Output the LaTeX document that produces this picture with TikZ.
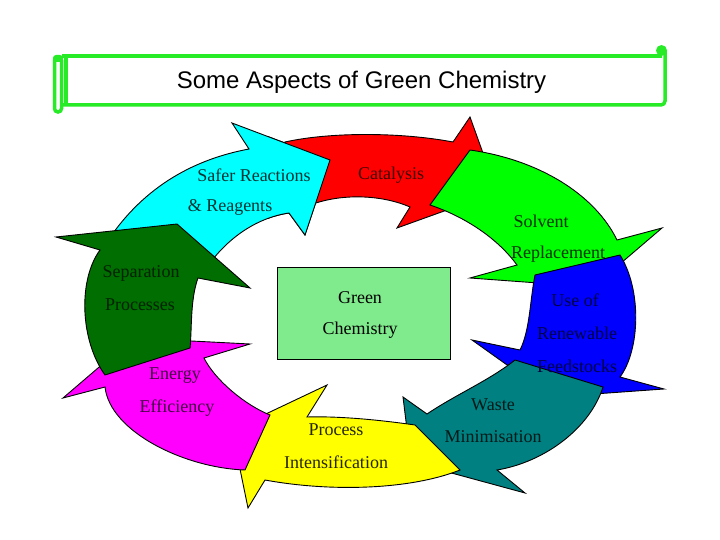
\documentclass[tikz,border=0pt]{standalone}
\usepackage{fontspec}
\setmainfont{Liberation Serif}
\newfontfamily\titlefont{Liberation Sans}
\definecolor{scroll}{RGB}{40,235,40}
\definecolor{cCyan}{RGB}{0,255,255}
\definecolor{cRed}{RGB}{255,0,0}
\definecolor{cLime}{RGB}{0,255,0}
\definecolor{cBlue}{RGB}{0,0,255}
\definecolor{cTeal}{RGB}{0,128,128}
\definecolor{cYellow}{RGB}{255,255,0}
\definecolor{cMagenta}{RGB}{255,0,255}
\definecolor{cDkGreen}{RGB}{0,110,0}
\definecolor{cCentre}{RGB}{128,235,140}
\begin{document}
\begin{tikzpicture}[x=1pt,y=-1pt,
  arrowshape/.style={draw=black,line width=0.9pt,line join=miter},
  lab/.style={font=\fontsize{18}{20}\selectfont, inner sep=0pt, anchor=center},
  scrollline/.style={draw=scroll,line width=3.5pt}]
\useasboundingbox[fill=white] (0,0) rectangle (720,540);

% title scroll
\draw[scrollline] (62,56) -- (662,56);
\draw[scrollline, rounded corners=4pt] (665,50) -- (665,105) -- (62,105);
\draw[scrollline] (66,58) -- (66,105);
\draw[scrollline, rounded corners=3.5pt] (54.5,57) rectangle (61.5,112);
\fill[scroll, rounded corners=3pt] (53,55) rectangle (63,62);
\fill[scroll] (661.5,50.5) circle (5.5pt);
\node[font=\titlefont\fontsize{24}{28}\selectfont, inner sep=0pt] (title) at (361.5,82) {Some Aspects of Green Chemistry};

% cyan arrow
\path[arrowshape, fill=cCyan] (105,245) .. controls (140,190) and (190,160) .. (249,149)
  -- (232,123) -- (330,160) -- (305,235) -- (289,213)
  .. controls (255,218) and (225,240) .. (205,270) -- cycle;
% red arrow
\path[arrowshape, fill=cRed] (285,142) .. controls (330,132) and (400,132) .. (453,142)
  -- (470,117) -- (497,192) -- (397,228) -- (410,207)
  .. controls (385,196) and (345,192) .. (310,205) -- cycle;
% green arrow
\path[arrowshape, fill=cLime] (470,150) .. controls (540,160) and (595,195) .. (617,240)
  -- (662,228) -- (593,287) -- (470,278) -- (517,265)
  .. controls (495,235) and (460,215) .. (430,205) -- cycle;
% blue arrow
\path[arrowshape, fill=cBlue] (535,275) .. controls (530,300) and (530,330) .. (520,350)
  -- (472,340) -- (552,397) -- (664,389) -- (620,377)
  .. controls (640,350) and (642,290) .. (620,255) -- cycle;
% teal arrow
\path[arrowshape, fill=cTeal] (515,360) .. controls (490,380) and (455,395) .. (427,414)
  -- (403,397) -- (411,462) -- (525,493) -- (497,470)
  .. controls (545,462) and (590,428) .. (603,387) -- cycle;
% yellow arrow
\path[arrowshape, fill=cYellow] (415,425) .. controls (380,420) and (340,416) .. (307,417)
  -- (327,385) -- (232,430) -- (248,508) -- (265,480)
  .. controls (330,492) and (410,490) .. (460,470) -- cycle;
% magenta arrow
\path[arrowshape, fill=cMagenta] (270,415) .. controls (245,405) and (215,380) .. (204,358)
  -- (250,344) -- (133,338) -- (63,398) -- (105,387)
  .. controls (110,432) and (185,468) .. (245,470) -- cycle;
% dark green arrow
\path[arrowshape, fill=cDkGreen] (105,375) .. controls (80,340) and (78,280) .. (100,250)
  -- (56,237) -- (177,224) -- (250,288) -- (198,278)
  .. controls (190,300) and (192,330) .. (190,348) -- cycle;
% cyan head redrawn over the red tail
\begin{scope}
\clip (268,100) rectangle (345,250);
\path[arrowshape, fill=cCyan] (105,245) .. controls (140,190) and (190,160) .. (249,149)
  -- (232,123) -- (330,160) -- (305,235) -- (289,213)
  .. controls (255,218) and (225,240) .. (205,270) -- cycle;
\end{scope}

% centre box
\node[draw=black, fill=cCentre, line width=0.8pt, minimum width=173pt, minimum height=92pt, inner sep=0pt] (centre) at (363.5,313) {};
\node[lab] (g1) at (360,298) {Green};
\node[lab] (g2) at (360,330) {Chemistry};

% labels
\node[lab, text=cCyan!20!black] (s1) at (254,175) {Safer Reactions};
\node[lab, text=cCyan!20!black] (s2) at (230,207) {\& Reagents};
\node[lab, text=cRed!25!black] (c1) at (391,175) {Catalysis};
\node[lab, text=cLime!20!black] (v1) at (541,221) {Solvent};
\node[lab, text=cLime!20!black] (v2) at (558,254) {Replacement};
\node[lab, text=cBlue!25!black] (r1) at (575,300) {Use of};
\node[lab, text=cBlue!25!black] (r2) at (577,333) {Renewable};
\node[lab, text=cBlue!25!black] (r3) at (577,366) {Feedstocks};
\node[lab, text=cTeal!20!black] (w1) at (493,405) {Waste};
\node[lab, text=cTeal!20!black] (w2) at (493,437) {Minimisation};
\node[lab, text=cYellow!15!black] (p1) at (336,430) {Process};
\node[lab, text=cYellow!15!black] (p2) at (336,462) {Intensification};
\node[lab, text=cMagenta!25!black] (e1) at (175,376) {Energy};
\node[lab, text=cMagenta!25!black] (e2) at (177,408) {Efficiency};
\node[lab, text=cDkGreen!30!black] (d1) at (141,273) {Separation};
\node[lab, text=cDkGreen!30!black] (d2) at (140,305) {Processes};
\end{tikzpicture}
\end{document}
